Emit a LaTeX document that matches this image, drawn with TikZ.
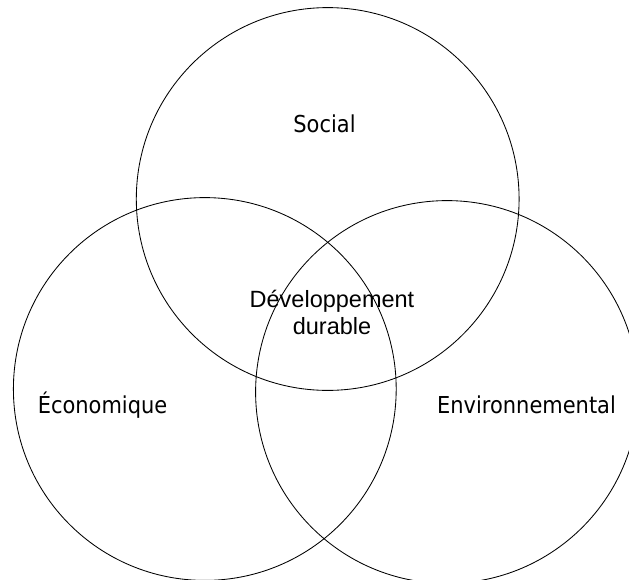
\documentclass[tikz,border=0pt]{standalone}
\usepackage{fontspec}
\setmainfont{Liberation Sans}
\newfontfamily\lblfont{DejaVu Sans}[FakeStretch=0.9]
\tikzset{
  ring/.style={draw=black, line width=0.85pt},
  lbl/.style={inner sep=0pt, anchor=base, font=\lblfont\fontsize{23.3}{28}\selectfont},
  core/.style={inner sep=0pt, anchor=base, font=\fontsize{23.5}{26.5}\selectfont, align=center}
}
\begin{document}
\begin{tikzpicture}[x=1pt,y=-1pt]
\useasboundingbox (0,0) rectangle (629,579);
\clip (0,0) rectangle (629,579);
\coordinate (cs) at (327.7,199);
\coordinate (ce) at (204.8,389);
\coordinate (cv) at (447,392);
\draw[ring] (cs) circle [radius=191.4];
\draw[ring] (ce) circle [radius=191.4];
\draw[ring] (cv) circle [radius=191.4];
\node[lbl] (social) at (324.5,132) {Social};
\node[lbl] (eco) at (102.5,413.5) {Économique};
\node[lbl] (env) at (526.5,413.5) {Environnemental};
\node[core] (dd1) at (332,307.5) {Développement};
\node[core] (dd2) at (332,334) {durable};
\end{tikzpicture}
\end{document}
